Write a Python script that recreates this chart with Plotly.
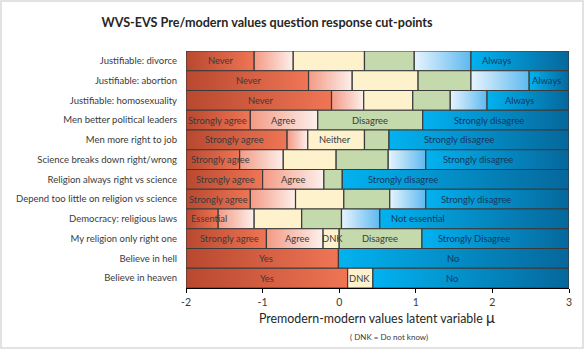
import plotly.graph_objects as go

W, H = 584, 349
ML, MR, MT, MB = 186, 15, 51, 61
PW, PH = W - ML - MR, H - MT - MB

XMIN, XMAX = -2, 3
x_ticks = [-2, -1, 0, 1, 2, 3]

questions = [
    "Justifiable: divorce",
    "Justifiable: abortion",
    "Justifiable: homosexuality",
    "Men better political leaders",
    "Men more right to job",
    "Science breaks down right/wrong",
    "Religion always right vs science",
    "Depend too little on religion vs science",
    "Democracy: religious laws",
    "My religion only right one",
    "Believe in hell",
    "Believe in heaven",
]

# interior cut-points of each question (latent variable mu)
cuts = [
    [-1.11, -0.60, 0.33, 0.98, 1.72],
    [-0.40, 0.17, 1.03, 1.72, 2.48],
    [-0.10, 0.32, 0.96, 1.45, 1.93],
    [-1.16, -0.28, 1.09],
    [-0.68, -0.41, 0.33, 0.65],
    [-1.30, -0.73, -0.04, 0.64, 1.13],
    [-1.00, -0.20, 0.04],
    [-1.16, -0.57, 0.06, 0.66, 1.13],
    [-1.58, -1.11, -0.49, 0.03, 0.53],
    [-0.95, -0.21, 0.00, 1.08],
    [-0.01],
    [0.11, 0.44],
]

# response kind of each segment: R strong pre-modern, P mild pre-modern,
# C neutral / DNK, G mild modern, L moderate modern, B strong modern
kinds = ["RPCGLB", "RPCGLB", "RPCGLB", "RPGB", "RPCGB", "RPCGLB",
         "RPGB", "RPCGLB", "RPCGLB", "RPCGB", "RB", "RCB"]

seg_text = [
    ["Never", "", "", "", "", "Always"],
    ["Never", "", "", "", "", "Always"],
    ["Never", "", "", "", "", "Always"],
    ["Strongly agree", "Agree", "Disagree", "Strongly disagree"],
    ["Strongly agree", "", "Neither", "", "Strongly disagree"],
    ["Strongly agree", "", "", "", "", "Strongly disagree"],
    ["Strongly agree", "Agree", "", "Strongly disagree"],
    ["Strongly agree", "", "", "", "", "Strongly disagree"],
    ["Essential", "", "", "", "", "Not essential"],
    ["Strongly agree", "Agree", "DNK", "Disagree", "Strongly Disagree"],
    ["Yes", "No"],
    ["Yes", "DNK", "No"],
]

# label centres on the mu axis
text_x = [
    [-1.54, None, None, None, None, 2.05],
    [-1.18, None, None, None, None, 2.71],
    [-1.02, None, None, None, None, 2.36],
    [-1.59, -0.74, 0.40, 1.95],
    [-1.37, None, -0.05, None, 1.56],
    [-1.55, None, None, None, None, 1.81],
    [-1.49, -0.60, None, 0.83],
    [-1.58, None, None, None, None, 1.78],
    [-1.70, None, None, None, None, 1.03],
    [-1.43, -0.55, -0.09, 0.53, 1.76],
    [-0.95, 1.49],
    [-0.94, 0.27, 1.47],
]

GRAD = {
    "R": ("#b8482f", "#ef7555"),
    "P": ("#f39a84", "#fdf0ec"),
    "C": ("#fef2cd", "#fef2cd"),
    "G": ("#c4d9ac", "#c4d9ac"),
    "L": ("#e8f4fd", "#5db9f0"),
    "B": ("#02b2f0", "#06679b"),
}
TXT = {"R": "#3a3a3a", "P": "#3a3a3a", "C": "#3a3a3a", "G": "#3a3a3a",
       "L": "#17375e", "B": "#17375e"}

FONT = "Lato"

fig = go.Figure()
ann = []
for i, q in enumerate(questions):
    edges = [XMIN] + cuts[i] + [XMAX]
    for j, k in enumerate(kinds[i]):
        x0, x1 = edges[j], edges[j + 1]
        c0, c1 = GRAD[k]
        fig.add_trace(go.Scatter(
            x=[x0, x1, x1, x0, x0],
            y=[i - 0.5, i - 0.5, i + 0.5, i + 0.5, i - 0.5],
            mode="lines", fill="toself",
            fillgradient=dict(type="horizontal", colorscale=[[0, c0], [1, c1]]),
            line=dict(color="#3a3a3a", width=1.2),
            hoverinfo="skip", showlegend=False, cliponaxis=False,
        ))
        t = seg_text[i][j]
        if t:
            ann.append(dict(x=text_x[i][j], y=i, xref="x", yref="y", text=t,
                            showarrow=False,
                            font=dict(family=FONT, size=9.4, color=TXT[k])))

def px_x(p):
    return (p - ML) / PW

def px_y(p):
    return (H - MB - p) / PH

ann.append(dict(x=px_x(389), y=px_y(317), xref="paper", yref="paper",
                text="Premodern-modern values latent variable <span style='font-size:15px'>μ</span>",
                showarrow=False, yanchor="middle",
                font=dict(family=FONT, size=12.4, color="#262626")))
ann[-1]["x"] = px_x(377)
ann.append(dict(x=px_x(389), y=px_y(337), xref="paper", yref="paper",
                text="( DNK = Do not know)", showarrow=False, yanchor="middle",
                font=dict(family=FONT, size=8, color="#3a3a3a")))

fig.update_layout(
    width=W, height=H,
    margin=dict(l=ML, r=MR, t=MT, b=MB),
    paper_bgcolor="white", plot_bgcolor="white",
    title=dict(text="<b>WVS-EVS Pre/modern values question response cut-points</b>",
               x=267 / W, xanchor="center", xref="container",
               y=1 - 23 / H, yanchor="middle", yref="container",
               font=dict(family=FONT, size=12.6, color="#262626")),
    xaxis=dict(range=[XMIN, XMAX], tickvals=x_ticks,
               ticktext=[str(v) for v in x_ticks],
               ticks="outside", ticklen=4, tickcolor="#000", tickwidth=1,
               showline=True, linecolor="#000", linewidth=1,
               showgrid=False, zeroline=False, automargin=False,
               tickfont=dict(family=FONT, size=10.5, color="#3a3a3a")),
    yaxis=dict(range=[11.5, -0.5], tickvals=list(range(len(questions))),
               ticktext=questions, showgrid=False, zeroline=False,
               ticks="", ticklabelstandoff=8, automargin=False,
               tickfont=dict(family=FONT, size=9.5, color="#3a3a3a")),
    annotations=ann,
    shapes=[dict(type="rect", xref="paper", yref="paper",
                 x0=px_x(1), x1=px_x(W - 1), y0=px_y(H - 1), y1=px_y(1),
                 line=dict(color="#d9d9d9", width=1.5), layer="below")],
)

fig.write_html("out.html")
